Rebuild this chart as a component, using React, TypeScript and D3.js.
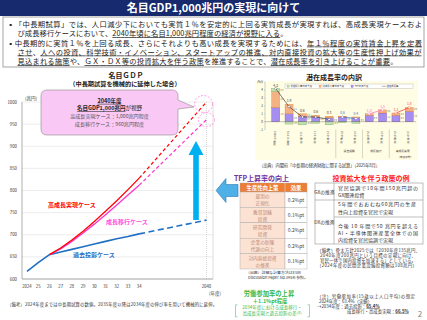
import React from 'react';
import * as d3 from 'd3';

const FONT = "'Noto Sans CJK JP', 'Noto Sans', sans-serif";

// ---------- Left chart data (名目GDP, 兆円) ----------
const yearTicks = [2024, 2025, 2026, 2027, 2028, 2029, 2030, 2031, 2032, 2033, 2034, 2040];
const yearTickLabels = ['2024', '25', '26', '27', '28', '29', '30', '31', '32', '33', '34', '2040'];
const gdpTicks = [600, 650, 700, 750, 800, 850, 900, 950, 1000];
const actualYears = [2024, 2025, 2026];
const actualGdp = [617, 637, 655];
const projYears = [2026, 2027, 2028, 2029, 2030, 2031, 2032, 2033, 2034];
const highCase = [655, 670, 688, 708, 730, 753, 777, 802, 828];
const transitionCase = [655, 668, 685, 704, 724, 745, 767, 790, 812];
const pastCase = [655, 661, 667, 673, 679, 685, 691, 696, 702];
const extYears = [2034, 2040];
const highExt = [828, 1000];
const transitionExt = [812, 960];
const pastExt = [702, 733];

// ---------- Mini chart data (潜在成長率の内訳, %) ----------
const miniCats = ['1981-90年度', '91-2000年度', '01-10年度', '11-20年度', '21-24年度', '25-29年度', '30-34年度', '25-29年度', '30-34年度', '25-29年度', '30-34年度'];
const miniGroupOf = [0, 0, 0, 0, 0, 1, 1, 2, 2, 3, 3];
const miniGroupLabels = ['', '過去投影', '成長移行', '高成長実現'];
const laborContrib = [0.4, -0.3, -0.4, -0.2, -0.4, -0.1, -0.2, 0.0, 0.0, 0.0, 0.0];
const capitalContrib = [2.0, 1.2, 0.3, 0.2, 0.2, 0.1, 0.1, 0.2, 0.4, 0.3, 0.5];
const tfpContrib = [1.8, 1.0, 0.7, 0.6, 0.5, 0.6, 0.5, 0.8, 1.1, 0.8, 1.3];
const potentialGrowth = [4.2, 1.9, 0.6, 0.6, 0.3, 0.6, 0.4, 1.0, 1.5, 1.1, 1.8];
const miniTicks = [-1, 0, 1, 2, 3, 4, 5];
const miniLegend = ['労働投入量の寄与度', '資本投入量の寄与度', 'TFPの寄与度', '潜在成長率'];

// ---------- TFP table ----------
const tfpMeasures = [['雇用の', '正規化'], ['教育訓練', '投資'], ['研究開発', '投資'], ['企業の新陳', '代謝の向上'], ['対内直接投資', 'の推進']];
const tfpEffects = ['0.2%pt', '0.1%pt', '0.2%pt', '0.2%pt', '0.1%pt'];

function T({ x, y, s = 5, c = '#000', w = 400, a = 'start', len, adj = 'spacing', children, style }: any) {
  return (
    <text x={x} y={y} fontSize={s} fill={c} fontWeight={w} textAnchor={a}
      textLength={len} lengthAdjust={len ? adj : undefined} fontFamily={FONT} style={style}>
      {children}
    </text>
  );
}
const U = ({ children }: any) => <tspan style={{ textDecoration: 'underline' }}>{children}</tspan>;

export default function App() {
  // left chart scales
  const xL = d3.scaleLinear().domain([2024, 2040]).range([27, 206.5]);
  const yL = d3.scaleLinear().domain([600, 1000]).range([279, 102]);
  const line = d3.line<[number, number]>().x(d => xL(d[0])).y(d => yL(d[1]));
  const zip = (xs: number[], ys: number[]) => xs.map((x, i) => [x, ys[i]] as [number, number]);

  // mini chart scales
  const xM = d3.scaleBand<number>().domain(miniCats.map((_, i) => i)).range([269, 416]).paddingInner(0.4).paddingOuter(0.2);
  const yM = d3.scaleLinear().domain([-1, 5]).range([129.6, 82.2]);
  const bw = xM.bandwidth();
  const cx = (i: number) => (xM(i) as number) + bw / 2;
  const groupColor = ['#404040', '#4472c4', '#ff66cc', '#ff3333'];
  const segColors = [
    { fill: '#a68ef0', stroke: '#7030a0' },
    { fill: '#f4b183', stroke: '#e07020' },
    { fill: '#c5e0b4', stroke: '#4ea03a' },
  ];

  const miniBars: any[] = [];
  miniCats.forEach((_, i) => {
    let pos = 0, neg = 0;
    [tfpContrib[i], capitalContrib[i], laborContrib[i]].forEach((v, k) => {
      if (v === 0) return;
      let y0, y1;
      if (v > 0) { y0 = pos; y1 = pos + v; pos = y1; } else { y1 = neg; y0 = neg + v; neg = y0; }
      miniBars.push(
        <g key={`b${i}-${k}`}>
          <rect x={xM(i)} y={yM(y1)} width={bw} height={yM(y0) - yM(y1)} fill={segColors[k].fill} stroke={segColors[k].stroke} strokeWidth={0.3} />
          {Math.abs(v) >= 0.3 && (
            <T x={(xM(i) as number) + bw + 0.8} y={(yM(y0) + yM(y1)) / 2 + 0.8} s={2.1} c="#555">{v.toFixed(1)}</T>
          )}
        </g>
      );
    });
  });

  const groups = [0, 1, 2, 3].map(g => miniCats.map((_, i) => i).filter(i => miniGroupOf[i] === g));

  return (
    <svg width={427} height={320} style={{ position: 'absolute', left: 0, top: 0, background: '#fff' }} fontFamily={FONT}>
      {/* Title bar */}
      <rect x={0} y={0} width={427} height={16} fill="#172a6e" />
      <T x={213.5} y={12} s={11} c="#fff" w={700} a="middle">名目GDP1,000兆円の実現に向けて</T>

      {/* Text box */}
      <rect x={3} y={17} width={421} height={50} fill="#fff" stroke="#7f7f7f" strokeWidth={0.7} />
      <T x={7} y={27} s={7.3} c="#222" len={415}>▪「中長期試算」では、人口減少下においても実質１％を安定的に上回る実質成長が実現すれば、高成長実現ケースおよ</T>
      <T x={17.5} y={36} s={7.3} c="#222" len={270}>び成長移行ケースにおいて、<U>2040年頃に名目1,000兆円程度の経済が視野に入る</U>。</T>
      <T x={7} y={45.5} s={7.3} c="#222" len={415}>▪中長期的に実質１％を上回る成長、さらにそれよりも高い成長を実現するためには、<U>年１％程度の実質賃金上昇を定着</U></T>
      <T x={17.5} y={54.5} s={7.3} c="#222" len={404}><U>させ</U>、<U>人への投資、科学技術・イノベーション、スタートアップの推進、対内直接投資の拡大等の生産性押上げ効果が</U></T>
      <T x={17.5} y={64} s={7.3} c="#222" len={380}><U>見込まれる施策</U>や、<U>ＧＸ・ＤＸ等の投資拡大を伴う政策</U>を推進することで、<U>潜在成長率を引き上げることが重要</U>。</T>

      {/* ---------- Left chart ---------- */}
      <T x={126} y={77.5} s={7} w={700} a="middle" c="#222">名目ＧＤＰ</T>
      <T x={125} y={86} s={6.2} w={700} a="middle" c="#222">（中長期試算を機械的に延伸した場合）</T>
      {gdpTicks.map(t => (
        <g key={t}>
          <line x1={22} x2={213} y1={yL(t)} y2={yL(t)} stroke={t === 600 ? '#8c8c8c' : '#e0e0e0'} strokeWidth={t === 600 ? 0.8 : 0.6} />
          <T x={17} y={yL(t) + 1.6} s={4.3} a="end" c="#333">{t}</T>
        </g>
      ))}
      <line x1={22} x2={22} y1={102} y2={279} stroke="#8c8c8c" strokeWidth={0.7} />
      <line x1={213} x2={213} y1={102} y2={279} stroke="#c8c8c8" strokeWidth={0.6} />
      <line x1={xL(2040)} x2={xL(2040)} y1={102} y2={279} stroke="#bdbdbd" strokeWidth={0.6} strokeDasharray="1,1" />
      <T x={25} y={99.5} s={4.5} c="#333">(兆円)</T>
      {yearTicks.map((t, i) => (
        <T key={t} x={xL(t)} y={288} s={4.3} a="middle" c="#333">{yearTickLabels[i]}</T>
      ))}
      <T x={215} y={295} s={4.5} a="middle" c="#333">(年度)</T>

      {/* lines */}
      <path d={line(zip(extYears, pastExt)) as string} fill="none" stroke="#1f6fc5" strokeWidth={1.6} strokeDasharray="6,3.5" />
      <path d={line(zip(extYears, transitionExt)) as string} fill="none" stroke="#ff33cc" strokeWidth={1.2} strokeDasharray="3.5,2.5" />
      <path d={line(zip(extYears, highExt)) as string} fill="none" stroke="#ff0000" strokeWidth={1.2} strokeDasharray="3.5,2.5" />
      <path d={line(zip(projYears, pastCase)) as string} fill="none" stroke="#1f6fc5" strokeWidth={1.6} />
      <path d={line(zip(projYears, transitionCase)) as string} fill="none" stroke="#ff33cc" strokeWidth={1.3} />
      <path d={line(zip(projYears, highCase)) as string} fill="none" stroke="#ff0000" strokeWidth={1.3} />
      <path d={line(zip(actualYears, actualGdp)) as string} fill="none" stroke="#1f6fc5" strokeWidth={1.6} />

      <T x={48} y={207} s={6} w={700} c="#ff0000">高成長実現ケース</T>
      <T x={106} y={224} s={6} w={700} c="#ff55dd">成長移行ケース</T>
      <T x={73} y={256.5} s={6} w={700} c="#1f6fc5">過去投影ケース</T>

      {/* highlight ellipses */}
      <ellipse cx={xL(2040) - 3} cy={yL(1000) + 2} rx={9} ry={8.5} fill="none" stroke="#ff88dd" strokeWidth={0.8} strokeDasharray="2,1.5" />
      <ellipse cx={xL(2040)} cy={yL(960)} rx={8} ry={7} fill="none" stroke="#ff88dd" strokeWidth={0.8} strokeDasharray="2,1.5" />

      {/* up arrow */}
      <path d="M193.2,220 L193.2,155 L188.5,155 L196,141 L203.5,155 L198.8,155 L198.8,220 Z" fill="#00b0f0" />

      {/* callout */}
      <path d="M47,90 L172,90 Q178,90 178,96 L178,100 L194,107 L178,109 L178,129 Q178,135 172,135 L47,135 Q41,135 41,129 L41,96 Q41,90 47,90 Z" fill="#f9c8f4" stroke="#8c8c8c" strokeWidth={0.6} />
      <T x={109.5} y={102.8} s={5.5} w={700} a="middle" c="#222"><U>2040年度</U></T>
      <T x={109.5} y={110.2} s={5.5} a="middle" c="#222"><tspan fontWeight={700} style={{ textDecoration: 'underline' }}>名目GDP1,000兆円</tspan>が視野</T>
      <T x={109.5} y={118.3} s={5.1} a="middle" c="#555">高成長実現ケース：1,000兆円程度</T>
      <T x={109.5} y={125.8} s={5.1} a="middle" c="#555">成長移行ケース：960兆円程度</T>

      <T x={7} y={305.5} s={4.3} c="#333" len={210}>（備考）2024年度までは中長期試算の数値。2035年度以降は2034年度の伸び率を用いて機械的に延伸。</T>

      {/* left-pointing arrow */}
      <path d="M216,190.5 L226,178.5 L226,184.5 L238,184.5 L238,196.5 L226,196.5 L226,202.5 Z" fill="#4fb0e8" stroke="#2e75b6" strokeWidth={0.6} />

      {/* ---------- Mini chart ---------- */}
      <T x={334} y={79.5} s={7} w={700} a="middle" c="#222">潜在成長率の内訳</T>
      <rect x={255} y={81} width={163} height={79} fill="#fffde3" />
      <rect x={285} y={84} width={128} height={4.5} fill="#fff" stroke="#999" strokeWidth={0.3} />
      {miniLegend.map((l, i) => {
        const lx = 287 + i * 32;
        return (
          <g key={l}>
            {i < 3 ? (
              <rect x={lx} y={85.2} width={2.2} height={2.2} fill={segColors[2 - i].fill} stroke={segColors[2 - i].stroke} strokeWidth={0.2} />
            ) : (
              <line x1={lx - 1} x2={lx + 3} y1={86.3} y2={86.3} stroke="#404040" strokeWidth={0.4} />
            )}
            <T x={lx + 3.5} y={87.3} s={2.4} c="#333">{l}</T>
          </g>
        );
      })}
      {miniTicks.map(t => (
        <g key={t}>
          <T x={263} y={yM(t) + 1} s={3} a="end" c="#333">{t}</T>
          <line x1={264} x2={265} y1={yM(t)} y2={yM(t)} stroke="#888" strokeWidth={0.3} />
        </g>
      ))}
      <T x={257} y={yM(5) + 1} s={2.8} c="#333">(%)</T>
      <line x1={265} x2={265} y1={yM(5)} y2={yM(-1)} stroke="#888" strokeWidth={0.4} />
      {miniBars}
      <line x1={265} x2={416} y1={yM(0)} y2={yM(0)} stroke="#666" strokeWidth={0.4} />
      {groups.map((idx, g) => (
        <g key={g}>
          <path d={d3.line<number>().x(i => cx(i)).y(i => yM(potentialGrowth[i]))(idx) as string} fill="none" stroke={groupColor[g]} strokeWidth={0.7} />
          {idx.map(i => (
            <g key={i}>
              <rect x={cx(i) - 1} y={yM(potentialGrowth[i]) - 1} width={2} height={2} fill="#fff" stroke={groupColor[g]} strokeWidth={0.4} transform={`rotate(45 ${cx(i)} ${yM(potentialGrowth[i])})`} />
              <T x={cx(i)} y={yM(Math.max(potentialGrowth[i], tfpContrib[i] + capitalContrib[i] + Math.max(0, laborContrib[i]))) - 2} s={3.4} a="middle" c={groupColor[g]}>{potentialGrowth[i].toFixed(1)}</T>
            </g>
          ))}
        </g>
      ))}
      {/* category labels */}
      {miniCats.map((c, i) => (
        <T key={i} x={cx(i) - 1} y={131} s={2.6} c="#444" style={{ writingMode: 'vertical-rl' } as any}>{c}</T>
      ))}
      {[5, 7, 9].map(b => {
        const x = (xM(b) as number) - xM.step() * xM.paddingInner() / 2;
        return <line key={b} x1={x} x2={x} y1={yM(-1)} y2={158} stroke="#999" strokeWidth={0.4} />;
      })}
      {[1, 2, 3].map(g => {
        const idx = groups[g];
        return <T key={g} x={(cx(idx[0]) + cx(idx[idx.length - 1])) / 2} y={152} s={2.8} a="middle" c="#333">{miniGroupLabels[g]}</T>;
      })}
      <T x={413} y={158} s={2.6} a="end" c="#333">（年度平均）</T>
      <T x={259} y={166.5} s={4.3} c="#333" len={121}>（出典）内閣府「中長期の経済財政に関する試算」（2025年8月）</T>

      {/* ---------- TFP table ---------- */}
      <T x={261.5} y={181} s={7} w={700} a="middle" c="#7030a0">TFP上昇率の向上</T>
      <rect x={240} y={183} width={67} height={9} fill="#ee7d36" stroke="#a6a6a6" strokeWidth={0.4} />
      <line x1={285} x2={285} y1={183} y2={192} stroke="#fff" strokeWidth={0.4} />
      <T x={262.5} y={189.8} s={5.3} w={700} a="middle" c="#fff">生産性向上策</T>
      <T x={296} y={189.8} s={5.3} w={700} a="middle" c="#fff">効果</T>
      {tfpMeasures.map((m, i) => {
        const y0 = 192 + i * 15.4;
        return (
          <g key={i}>
            <rect x={240} y={y0} width={45} height={15.4} fill="#fbe2d2" stroke="#a6a6a6" strokeWidth={0.4} />
            <rect x={285} y={y0} width={22} height={15.4} fill="#fff" stroke="#a6a6a6" strokeWidth={0.4} />
            <T x={262.5} y={y0 + 6.2} s={4.7} a="middle" c="#c08a7a">{m[0]}</T>
            <T x={262.5} y={y0 + 13.2} s={4.7} a="middle" c="#c08a7a">{m[1]}</T>
            <T x={296} y={y0 + 9.6} s={5} a="middle" c="#444">{tfpEffects[i]}</T>
          </g>
        );
      })}
      <T x={246} y={273.5} s={3.9} c="#333">（出典）詳細な計算方法はESRI</T>
      <T x={248} y={278.5} s={3.9} c="#333">Discussion Paper No.395を参照。</T>

      {/* labor participation */}
      <T x={269} y={296.3} s={6.3} w={700} a="middle" c="#33b84a">労働参加率の上昇</T>
      <T x={270} y={303} s={5.3} w={700} a="middle" c="#33b84a">＋1.1%pt程度</T>
      <T x={272} y={309.3} s={4.5} a="middle" c="#33b84a">2034年度における成長移行・</T>
      <T x={272} y={315.3} s={4.5} a="middle" c="#33b84a">高成長実現と過去投影の差<tspan fontSize={3} dy={-1.5}>(注)</tspan></T>
      <path d="M237.5,304.8 L235.5,304.8 L235.5,316.8 L237.5,316.8" fill="none" stroke="#33b84a" strokeWidth={0.5} />
      <path d="M307.5,304.8 L309.5,304.8 L309.5,316.8 L307.5,316.8" fill="none" stroke="#33b84a" strokeWidth={0.5} />

      {/* ---------- Investment policy table ---------- */}
      <T x={371} y={181} s={7} w={700} a="middle" c="#ff2020">投資拡大を伴う政策の例</T>
      <rect x={315} y={183} width={108} height={61} fill="#fff" stroke="#7f7f7f" strokeWidth={0.5} />
      <line x1={334} x2={334} y1={183} y2={244} stroke="#7f7f7f" strokeWidth={0.5} />
      <line x1={315} x2={423} y1={200} y2={200} stroke="#7f7f7f" strokeWidth={0.5} />
      <line x1={334} x2={423} y1={217} y2={217} stroke="#7f7f7f" strokeWidth={0.5} />
      <T x={324.5} y={193.5} s={4.8} a="middle" c="#333">GXの推進</T>
      <T x={324.5} y={224} s={4.8} a="middle" c="#333">DXの推進</T>
      <T x={338} y={189.5} s={5} c="#333" len={80}>官民協調で10年間150兆円超の</T>
      <T x={338} y={196.5} s={5} c="#333">GX関連投資</T>
      <T x={338} y={205.5} s={5} c="#333" len={78}>5年間でおおむね60兆円の生産</T>
      <T x={338} y={213.5} s={5} c="#333">性向上投資を官民で実現</T>
      <T x={338} y={228} s={5} c="#333" len={80}>今後 10 年間で50 兆円を超える</T>
      <T x={338} y={234.8} s={5} c="#333" len={80}>AI・半導体関連産業全体での国</T>
      <T x={338} y={241.5} s={5} c="#333">内投資を官民協調で実現</T>
      <T x={317} y={252} s={4.4} c="#333" len={103}>（備考）骨太方針2025では「2030年度135兆円、</T>
      <T x={320} y={257} s={4.4} c="#333" len={96}>2040年度200兆円という目標の実現に向け、</T>
      <T x={320} y={262} s={4.4} c="#333" len={96}>官民一体で国内投資を加速する」としている。</T>
      <T x={317} y={266.5} s={4.4} c="#333" len={100}>（2024年度の民間企業設備投資額は108兆円）</T>

      <T x={317} y={297.5} s={4.4} c="#333" len={98}>（注）労働参加率(15歳以上人口平均)の想定</T>
      <T x={319} y={302.5} s={4.4} c="#333">2024年度：63.4%（実績）</T>
      <T x={317} y={307.5} s={4.4} c="#333">→2034年度：過去投影：<tspan fontWeight={700} style={{ textDecoration: 'underline' }}>65.4%</tspan></T>
      <T x={347} y={312.5} s={4.4} c="#333">成長移行・高成長実現：<tspan fontWeight={700} style={{ textDecoration: 'underline' }}>66.5%</tspan></T>
      <T x={420} y={317} s={8} a="middle" c="#7f7f7f">2</T>
    </svg>
  );
}
